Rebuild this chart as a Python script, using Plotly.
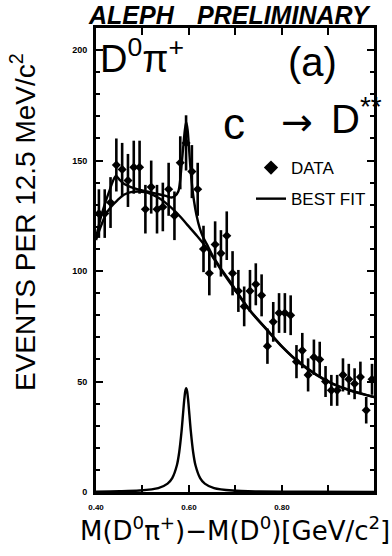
import plotly.graph_objects as go

# ---- data ----
x_data = [0.40625, 0.41875, 0.43125, 0.44375, 0.45625, 0.46875, 0.48125, 0.49375,
          0.50625, 0.51875, 0.53125, 0.54375, 0.55625, 0.56875, 0.58125, 0.59375,
          0.60625, 0.61875, 0.63125, 0.64375, 0.65625, 0.66875, 0.68125, 0.69375,
          0.70625, 0.71875, 0.73125, 0.74375, 0.75625, 0.76875, 0.78125, 0.79375,
          0.80625, 0.81875, 0.83125, 0.84375, 0.85625, 0.86875, 0.88125, 0.89375,
          0.90625, 0.91875, 0.93125, 0.94375, 0.95625, 0.96875, 0.98125, 0.99375]
y_data = [126, 126, 131, 148, 146, 141, 147, 147,
          128, 138, 128, 129, 137, 125, 149, 158,
          145, 137, 110, 99, 112, 108, 116, 99,
          91, 84, 91, 94, 89, 66, 77, 81,
          81, 80, 59, 64, 53, 61, 60, 50,
          46, 46, 53, 51, 49, 52, 37, 51]
y_err = [11, 11, 11.5, 12, 12, 12, 12, 12,
         11, 12, 11, 11, 12, 11, 12, 12.5,
         12, 12, 10.5, 10, 10.5, 10.5, 11, 10,
         9.5, 9, 9.5, 9.5, 9.5, 8, 9, 9,
         9, 9, 7.5, 8, 7.5, 8, 8, 7,
         7, 7, 7.5, 7, 7, 7, 6, 7]

fit_x = [0.400, 0.410, 0.420, 0.430, 0.437, 0.443, 0.450, 0.460, 0.475, 0.490,
         0.510, 0.530, 0.550, 0.563, 0.570, 0.577, 0.581, 0.585, 0.588, 0.591,
         0.594, 0.597, 0.600, 0.603, 0.607, 0.611, 0.616, 0.623, 0.630, 0.640,
         0.652, 0.666, 0.694, 0.731, 0.767, 0.801, 0.837, 0.874, 0.908, 0.945, 0.998]
fit_y = [115, 124, 131, 137, 141, 143, 141.5, 139.5, 138, 137,
         136, 135, 134, 133.3, 134, 136, 141, 150, 157, 163.5,
         167.5, 164, 156, 147, 138, 131.5, 125.5, 119.5, 115.5, 111.5,
         106.5, 102, 93.5, 82.3, 73.7, 65.7, 58.7, 53.2, 49.2, 46.2, 43]

bkg_x = [0.400, 0.410, 0.422, 0.432, 0.446, 0.460, 0.475, 0.490, 0.505, 0.520,
         0.538, 0.553, 0.567, 0.581, 0.596, 0.617, 0.638, 0.666, 0.694, 0.731,
         0.767, 0.801, 0.837, 0.874, 0.908, 0.945, 0.998]
bkg_y = [114, 120, 126, 129, 132, 134.5, 135.7, 136, 135.7, 134.7,
         132.7, 130.3, 127.7, 124.7, 121, 116, 110.5, 101.5, 93, 82,
         73.5, 65.5, 58.5, 53, 49, 46, 43]

sig_x = [0.400, 0.450, 0.494, 0.534, 0.554, 0.564, 0.574, 0.579, 0.584, 0.587,
         0.590, 0.592, 0.594, 0.596, 0.598, 0.601, 0.604, 0.609, 0.614, 0.624,
         0.634, 0.654, 0.694, 0.750, 0.850, 0.998]
sig_y = [0.17, 0.31, 0.65, 1.75, 3.8, 6.3, 12.1, 18, 27.4, 34.8,
         42.1, 45.6, 47, 45.6, 42.1, 34.8, 27.4, 18, 12.1, 6.3,
         3.8, 1.75, 0.65, 0.27, 0.1, 0.04]

x_tickvals = [0.4, 0.6, 0.8]
x_ticktext = ["0.40", "0.60", "0.80"]
x_minorvals = [0.5, 0.7, 0.9]
y_tickvals = [0, 50, 100, 150, 200]
y_ticktext = ["0", "50", "100", "150", "200"]

# ---- layout geometry helpers (pixels -> paper) ----
W, H = 392, 556
L, R, T, B = 96, 18, 28, 64
PW, PH = W - L - R, H - T - B


def px(xp):
    return (xp - L) / PW


def py(yp):
    return (H - B - yp) / PH


fig = go.Figure()

fig.add_trace(go.Scatter(
    x=sig_x, y=sig_y, mode="lines", line=dict(color="black", width=2.4, shape="spline", smoothing=0.8),
    showlegend=False, hoverinfo="skip"))
fig.add_trace(go.Scatter(
    x=bkg_x, y=bkg_y, mode="lines", line=dict(color="black", width=2.4, shape="spline", smoothing=0.8),
    showlegend=False, hoverinfo="skip"))
fig.add_trace(go.Scatter(
    x=x_data, y=y_data, mode="markers",
    marker=dict(symbol="diamond", size=7, color="black"),
    error_y=dict(type="data", array=y_err, visible=True, color="black", thickness=2.6, width=0),
    showlegend=False))
# legend entries
fig.add_trace(go.Scatter(
    x=[None], y=[None], mode="markers", name="DATA",
    marker=dict(symbol="diamond", size=11, color="black"), legendgroup="a"))
fig.add_trace(go.Scatter(
    x=fit_x, y=fit_y, mode="lines", name="BEST FIT",
    line=dict(color="black", width=2.4, shape="spline", smoothing=0.8), legendgroup="b"))

axis_common = dict(showline=True, linewidth=3, linecolor="black", mirror="ticks",
                   ticks="inside", tickcolor="black", showgrid=False, zeroline=False)

fig.update_xaxes(range=[0.4, 0.998], tickvals=x_tickvals, ticktext=x_ticktext,
                 ticklen=7, tickwidth=2, ticklabelstandoff=5,
                 minor=dict(tickvals=x_minorvals, ticklen=7, tickwidth=2, tickcolor="black", ticks="inside"),
                 tickfont=dict(family="Liberation Sans", size=8, color="black", weight="bold"),
                 **axis_common)
fig.update_yaxes(range=[0, 210], tickvals=y_tickvals, ticktext=y_ticktext,
                 ticklen=7, tickwidth=2, ticklabelstandoff=4,
                 minor=dict(dtick=10, ticklen=4, tickwidth=1.5, tickcolor="black", ticks="inside"),
                 tickfont=dict(family="Liberation Sans", size=9, color="black", weight="bold"),
                 **axis_common)

ann = []
ann.append(dict(text="<b><i>ALEPH</i></b>", x=px(131), y=py(15), xref="paper", yref="paper",
                showarrow=False, xanchor="center", yanchor="middle",
                font=dict(family="Liberation Sans", size=25, color="black")))
ann.append(dict(text="<b><i>PRELIMINARY</i></b>", x=px(284), y=py(15), xref="paper", yref="paper",
                showarrow=False, xanchor="center", yanchor="middle",
                font=dict(family="Liberation Sans", size=25, color="black")))
ann.append(dict(text="D<sup>0</sup>π<sup>+</sup>", x=px(98), y=py(56), xref="paper", yref="paper",
                showarrow=False, xanchor="left", yanchor="middle",
                font=dict(family="Liberation Sans", size=38, color="black")))
ann.append(dict(text="(a)", x=px(312), y=py(62), xref="paper", yref="paper",
                showarrow=False, xanchor="center", yanchor="middle",
                font=dict(family="Liberation Sans", size=40, color="black")))
ann.append(dict(text="c", x=px(234), y=py(124), xref="paper", yref="paper",
                showarrow=False, xanchor="center", yanchor="middle",
                font=dict(family="Liberation Sans", size=44, color="black")))
ann.append(dict(text="→", x=px(297), y=py(122), xref="paper", yref="paper",
                showarrow=False, xanchor="center", yanchor="middle",
                font=dict(family="DejaVu Sans", size=38, color="black")))
ann.append(dict(text="D<sup>**</sup>", x=px(329), y=py(116), xref="paper", yref="paper",
                showarrow=False, xanchor="left", yanchor="middle",
                font=dict(family="Liberation Sans", size=40, color="black")))
ann.append(dict(text="EVENTS PER 12.5 MeV/c<sup>2</sup>", x=px(23), y=py(222), xref="paper", yref="paper",
                showarrow=False, xanchor="center", yanchor="middle", textangle=-90,
                font=dict(family="Liberation Sans", size=28, color="black")))
ann.append(dict(text="M(D<sup>0</sup>π<sup>+</sup>)−M(D<sup>0</sup>)[GeV/c<sup>2</sup>]",
                x=px(235), y=py(529), xref="paper", yref="paper",
                showarrow=False, xanchor="center", yanchor="middle",
                font=dict(family="DejaVu Sans", size=26, color="black")))

fig.update_layout(
    width=W, height=H,
    margin=dict(l=L, r=R, t=T, b=B),
    paper_bgcolor="white", plot_bgcolor="white",
    annotations=ann,
    showlegend=True,
    legend=dict(x=px(251), y=py(150), xanchor="left", yanchor="top",
                bgcolor="rgba(0,0,0,0)", traceorder="grouped", tracegroupgap=6,
                font=dict(family="Liberation Sans", size=17, color="black")),
)

fig.write_html("out.html", config={"displayModeBar": False},
               post_script="document.body.style.margin='0';")
